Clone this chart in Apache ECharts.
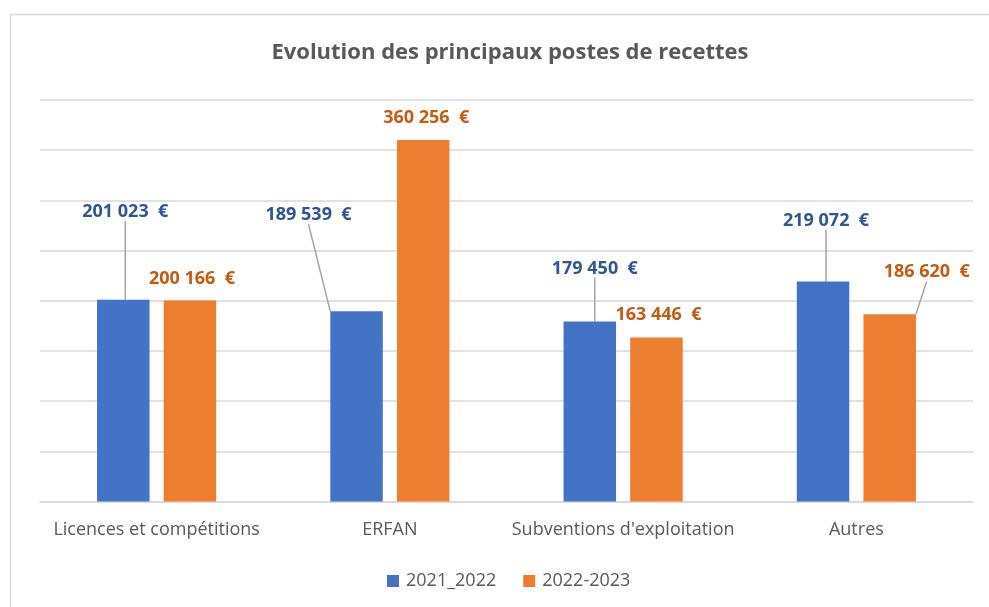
<!DOCTYPE html>
<html>
<head>
<meta charset="utf-8">
<script src="https://cdn.jsdelivr.net/npm/echarts@6/dist/echarts.min.js"></script>
<style>html,body{margin:0;padding:0;background:#fff;}#c{width:989px;height:607px;}</style>
</head>
<body>
<div id="c"></div>
<script>
var categories = ["Licences et compétitions", "ERFAN", "Subventions d'exploitation", "Autres"];
var seriesNames = ["2021_2022", "2022-2023"];
var values2021 = [201023, 189539, 179450, 219072];
var values2022 = [200166, 360256, 163446, 186620];
var yTicks = [0, 50000, 100000, 150000, 200000, 250000, 300000, 350000, 400000];

// label placement (offsets from default top position), kept separate from data
var labelShift2021 = [[2, -74], [-48, -82], [5, -39], [3, -47]];
var labelShift2022 = [[2, -8], [3, -8], [2, -9], [37, -28]];
var line2021 = [true, true, true, true];
var line2022 = [false, false, false, true];

function fmt(v) {
  return String(v).replace(/\B(?=(\d{3})+(?!\d))/g, ' ') + '  €';
}
var FONT = 'Open Sans';
var chart = echarts.init(document.getElementById('c'));

function mkData(vals, lines) {
  return vals.map(function (v, i) {
    return { value: v, labelLine: { show: lines[i] } };
  });
}
function mkSeries(name, vals, color, labelColor, shifts, lines) {
  return {
    name: name,
    type: 'bar',
    barWidth: '22.5%',
    barGap: '27%',
    itemStyle: { color: color },
    data: mkData(vals, lines),
    label: {
      show: true,
      position: 'top',
      distance: 5,
      color: labelColor,
      fontFamily: FONT,
      fontWeight: 'bold',
      fontSize: 18,
      formatter: function (p) { return fmt(p.value); }
    },
    labelLine: { show: true, lineStyle: { color: '#a6a6a6', width: 1.5 } },
    labelLayout: function (p) {
      var s = shifts[p.dataIndex];
      return { dx: s[0], dy: s[1] };
    }
  };
}

chart.setOption({
  animation: false,
  backgroundColor: '#fff',
  title: {
    text: 'Evolution des principaux postes de recettes',
    left: 505, top: 37, textAlign: 'center',
    textStyle: { fontFamily: FONT, fontWeight: 'bold', fontSize: 22, color: '#595959' }
  },
  graphic: [{
    type: 'rect', silent: true,
    shape: { x: 10.5, y: 14.5, width: 1000, height: 700 },
    style: { fill: 'none', stroke: '#d9d9d9', lineWidth: 1.5 }
  }],
  legend: {
    data: seriesNames,
    left: 382, top: 567,
    icon: 'rect', itemWidth: 12, itemHeight: 12, itemGap: 27,
    textStyle: { fontFamily: FONT, fontSize: 18, color: '#595959', padding: [0, 0, 0, 2] }
  },
  grid: { left: 40, right: 16, top: 100, bottom: 105.5 },
  xAxis: {
    type: 'category',
    data: categories,
    axisLine: { lineStyle: { color: '#d9d9d9', width: 1.5 } },
    axisTick: { show: false },
    axisLabel: { interval: 0, fontFamily: FONT, fontSize: 18, color: '#595959', margin: 19 }
  },
  yAxis: {
    type: 'value',
    min: yTicks[0], max: yTicks[yTicks.length - 1], interval: yTicks[1] - yTicks[0],
    axisLabel: { show: false },
    axisLine: { show: false },
    axisTick: { show: false },
    splitLine: { lineStyle: { color: '#d9d9d9', width: 1.5 } }
  },
  series: [
    mkSeries(seriesNames[0], values2021, '#4472c4', '#2f5597', labelShift2021, line2021),
    mkSeries(seriesNames[1], values2022, '#ed7d31', '#c55a11', labelShift2022, line2022)
  ]
});
</script>
</body>
</html>
